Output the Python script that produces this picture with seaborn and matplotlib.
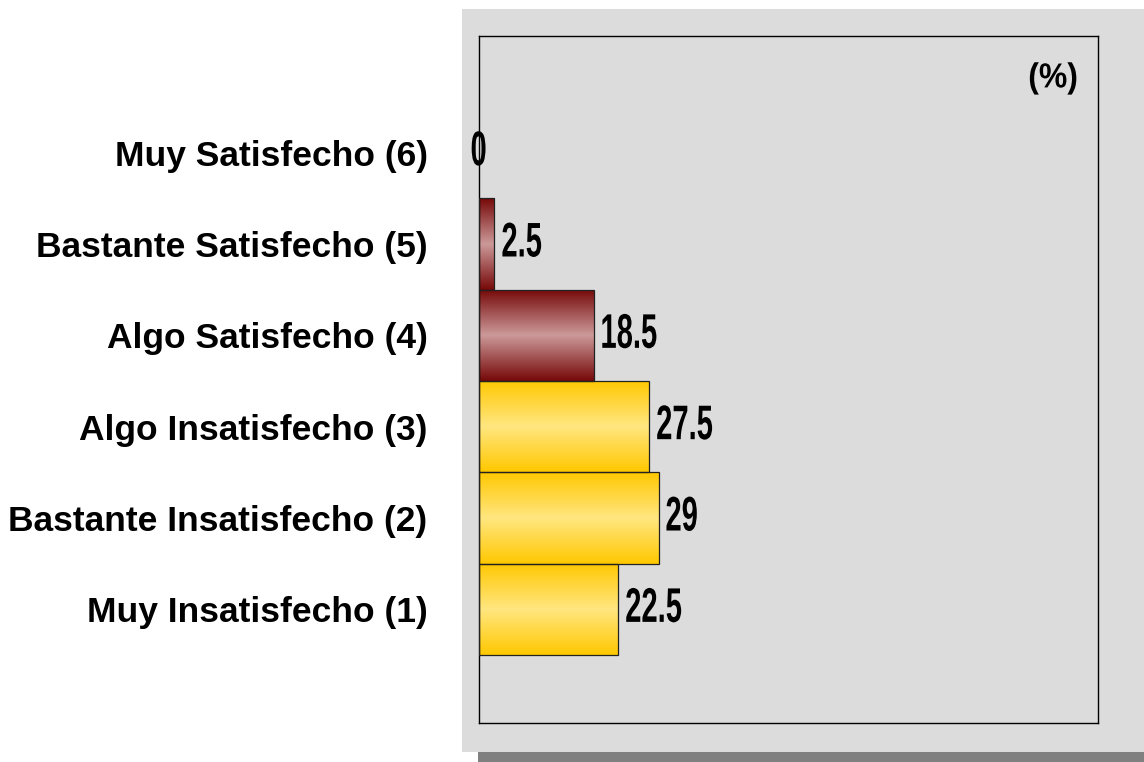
import numpy as np
import pandas as pd
import seaborn as sns
import matplotlib.pyplot as plt
from matplotlib.patches import Rectangle
from matplotlib.colors import LinearSegmentedColormap
from matplotlib.patheffects import AbstractPathEffect
from matplotlib.transforms import Affine2D

sns.set_theme(style="white")
plt.rcParams['font.family'] = ['Liberation Sans Narrow', 'Liberation Sans', 'DejaVu Sans']


# squeeze text horizontally to mimic the narrow bold face of the original
class Squeeze(AbstractPathEffect):
    def __init__(self, sx, anchor='left'):
        super().__init__()
        self.sx = sx
        self.anchor = anchor

    def draw_path(self, renderer, gc, tpath, affine, rgbFace=None):
        xs = tpath.vertices[:, 0]
        if self.anchor == 'right':
            x0 = xs.max()
        elif self.anchor == 'center':
            x0 = (xs.min() + xs.max()) / 2
        else:
            x0 = 0
        sq = Affine2D().translate(-x0, 0).scale(self.sx, 1).translate(x0, 0)
        renderer.draw_path(gc, tpath, sq + affine, rgbFace)


# data, top to bottom as shown
categories = ['Muy Satisfecho (6)', 'Bastante Satisfecho (5)', 'Algo Satisfecho (4)',
              'Algo Insatisfecho (3)', 'Bastante Insatisfecho (2)', 'Muy Insatisfecho (1)']
values = [0, 2.5, 18.5, 27.5, 29, 22.5]
groups = ['sat', 'sat', 'sat', 'insat', 'insat', 'insat']

df = pd.DataFrame({'cat': categories, 'val': values, 'grp': groups})

W, H = 1144, 762
fig = plt.figure(figsize=(W / 100, H / 100), dpi=100)
fig.patch.set_facecolor('white')

# grey panel with shadow underneath (drawn behind the axes)
fig.add_artist(Rectangle((478 / W, 0), 666 / W, 10 / H, transform=fig.transFigure,
                         facecolor='#808080', edgecolor='none', zorder=-2))
fig.add_artist(Rectangle((462 / W, 10 / H), 682 / W, 743 / H, transform=fig.transFigure,
                         facecolor='#DCDCDC', edgecolor='none', zorder=-1))

ax = fig.add_axes([479 / W, 1 - 723 / H, 619 / W, 687 / H])
ax.set_zorder(1)
ax.set_facecolor('#DCDCDC')

sns.barplot(data=df, x='val', y='cat', orient='h', width=1.0, color='#FFCC00',
            edgecolor='#222222', linewidth=0.9, ax=ax)

# gradient fills: dark at top/bottom edges, light in the middle
yellow = LinearSegmentedColormap.from_list('y', ['#FFC800', '#FFE680', '#FFC800'])
maroon = LinearSegmentedColormap.from_list('m', ['#760808', '#CC9999', '#760808'])
grad = np.linspace(0, 1, 256).reshape(-1, 1)

for patch, g in zip(ax.patches, groups):
    x0, y0 = patch.get_x(), patch.get_y()
    w, h = patch.get_width(), patch.get_height()
    if w <= 0:
        patch.set_visible(False)
        continue
    patch.set_facecolor('none')
    patch.set_zorder(3)
    cmap = maroon if g == 'sat' else yellow
    im = ax.imshow(grad, cmap=cmap, aspect='auto', extent=[x0, x0 + w, y0 + h, y0],
                   zorder=2, interpolation='bilinear')
    im.set_clip_path(patch)

ax.set_xlim(0, 100)
ax.set_ylim(6.244, -1.277)

for i, v in enumerate(values):
    label = f'{v:g}'
    if v == 0:
        ax.text(v, i, label, ha='center', va='center', fontsize=35, fontweight='bold',
                color='black', zorder=4, path_effects=[Squeeze(0.6, 'center')])
    else:
        ax.annotate(label, (v, i), xytext=(5, 0), textcoords='offset points',
                    ha='left', va='center', fontsize=35, fontweight='bold',
                    color='black', zorder=4, path_effects=[Squeeze(0.6, 'left')])

ax.text(0.968, 0.939, '(%)', transform=ax.transAxes, ha='right', va='center',
        fontsize=25, fontweight='bold', color='black',
        path_effects=[Squeeze(0.92, 'right')])

ax.set_xlabel('')
ax.set_ylabel('')
ax.set_xticks([])
ax.tick_params(axis='y', length=0, pad=37)
for lbl in ax.get_yticklabels():
    lbl.set_fontsize(25.5)
    lbl.set_fontweight('bold')
    lbl.set_color('black')

for s in ax.spines.values():
    s.set_visible(True)
    s.set_color('black')
    s.set_linewidth(1.0)

fig.savefig('out.png', dpi=100, facecolor=fig.get_facecolor())
